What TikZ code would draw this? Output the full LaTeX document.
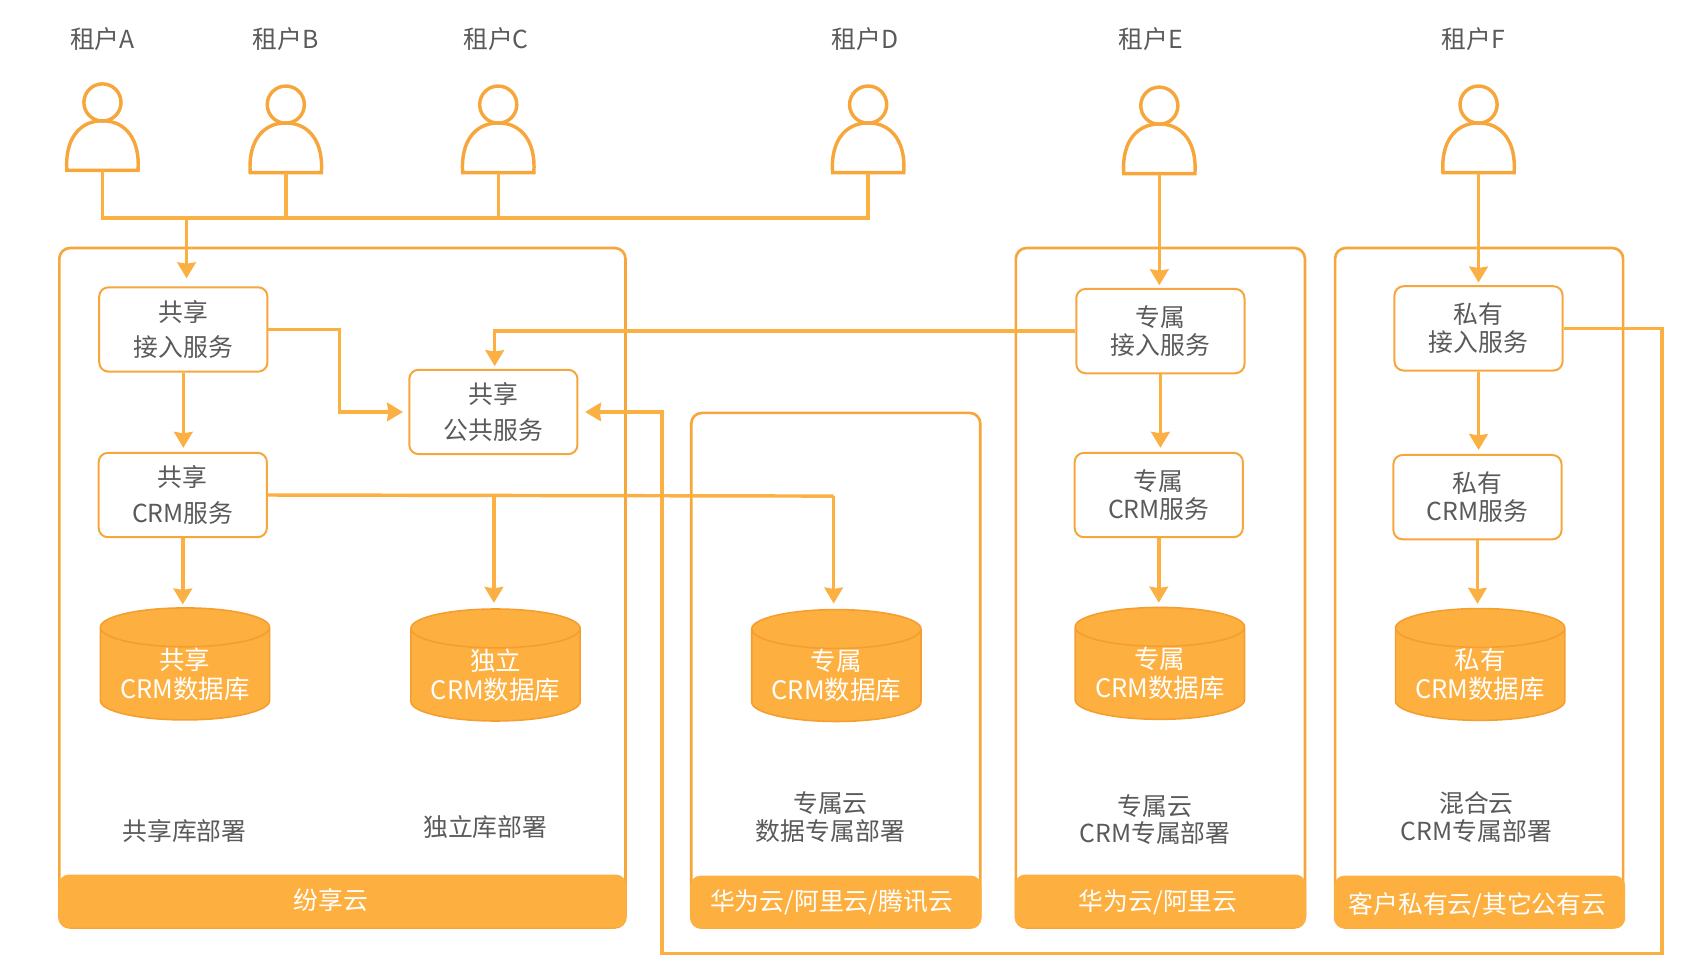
\documentclass[tikz,border=0pt]{standalone}
\usepackage{fontspec}
\setmainfont{Noto Sans CJK SC}
\usetikzlibrary{arrows.meta,shapes.geometric}
\definecolor{lineor}{HTML}{FBB044}
\definecolor{edgeor}{HTML}{F7A63C}
\definecolor{fillor}{HTML}{FDB040}
\definecolor{dbedge}{HTML}{F59E30}
\definecolor{txtgray}{HTML}{5A5A5A}
\begin{document}
\begin{tikzpicture}[x=.813pt,y=-.813pt,
        every node/.style={font=\fontsize{18.7}{21}\selectfont,text=txtgray,align=center,inner sep=0pt},
        conn/.style={draw=lineor,line width=2.6pt,>={Stealth[inset=1pt,length=12pt,width=14pt]},->},
        bus/.style={draw=lineor,line width=2.6pt},
        person/.style={draw=edgeor,line width=2.6pt},
        cloudbox/.style={draw=edgeor,line width=2pt,rounded corners=8pt},
        cloudbar/.style={fill=fillor,rounded corners=8pt},
        bartext/.style={text=white},
        svc/.style={draw=edgeor,line width=1.5pt,rounded corners=7pt,fill=white,minimum width=126.8pt,minimum height=63.6pt},
        dbase/.style={cylinder,shape border rotate=90,aspect=.3,draw=dbedge,line width=1.2pt,cylinder uses custom fill,cylinder body fill=fillor,cylinder end fill=fillor,text=white,minimum width=127.6pt,font=\fontsize{19.2}{22}\selectfont}]
            \useasboundingbox (0,0) rectangle (1568,890.2);
            \node[cloudbox,minimum width=426.8pt,minimum height=512.2pt] at (317.5,545)(cloudA){};
            \node[cloudbox,minimum width=217.9pt,minimum height=388pt] at (775,621.5)(cloudB){};
            \node[cloudbox,minimum width=217.9pt,minimum height=512.2pt] at (1076,545)(cloudC){};
            \node[cloudbox,minimum width=217.1pt,minimum height=512.2pt] at (1371.5,545)(cloudD){};
            \node[cloudbar,minimum width=428pt,minimum height=40pt] at (317.5,835.5)(barA){};
            \node[cloudbar,minimum width=219.5pt,minimum height=40pt] at (775,836.5)(barB){};
            \node[cloudbar,minimum width=219.5pt,minimum height=40pt] at (1076,835.5)(barC){};
            \node[cloudbar,minimum width=219.5pt,minimum height=40pt] at (1372,836.5)(barD){};
            \node[bartext] at (307,835)(barAtext){纷享云};
            \node[bartext] at (771,837)(barBtext){华为云/阿里云/腾讯云};
            \node[bartext] at (1074,837)(barCtext){华为云/阿里云};
            \node[bartext] at (1370,839)(barDtext){客户私有云/其它公有云};
            \foreach \n/\lx/\x/\y in {A/95/95/95,B/265/265/97,C/460/462/97,D/802/805/97,E/1067/1075/98,F/1366/1371/97}{
                \node at (\lx,36)(label\n){租户\n};
                \node[person,ellipse,minimum width=28pt,minimum height=28pt] at (\x,\y)(head\n){};
                \draw[person,shift={(\x,\y)}] (-33,63) .. controls (-35,35) and (-22,17) .. (0,17) .. controls (22,17) and (35,35) .. (33,63) -- cycle;
                \coordinate (foot\n) at (\x,\y+63);
            }
            \node[svc] at (170,305.5)(shareIn){共享\\[6pt]接入服务};
            \node[svc] at (169.5,459)(shareCrm){共享\\[6pt]CRM服务};
            \node[svc] at (457.5,382)(sharePub){共享\\[6pt]公共服务};
            \node[svc] at (1076,307)(onlyIn){专属\\接入服务};
            \node[svc] at (1074.5,459)(onlyCrm){专属\\CRM服务};
            \node[svc] at (1371,304.5)(privIn){私有\\接入服务};
            \node[svc] at (1370,461)(privCrm){私有\\CRM服务};
            \node[dbase] at (171.5,625)(dbA){共享\\CRM数据库};
            \node[dbase] at (459.5,626)(dbB){独立\\CRM数据库};
            \node[dbase] at (775.5,626.5)(dbC){专属\\CRM数据库};
            \node[dbase] at (1075.5,624.5)(dbD){专属\\CRM数据库};
            \node[dbase] at (1372.5,625.5)(dbE){私有\\CRM数据库};
            \node at (171,771)(capA){共享库部署};
            \node at (450,767)(capB){独立库部署};
            \node at (770,758)(capC){专属云\\数据专属部署};
            \node at (1071,760)(capD){专属云\\CRM专属部署};
            \node at (1369,758)(capE){混合云\\CRM专属部署};
            \coordinate (busMid) at (173,202);
            \coordinate (crmMid) at (458,460);
            \coordinate (crmEnd) at (773,460);
            \coordinate (wrapR) at (1541,884);
            \coordinate (wrapL) at (614,884);
            \path[bus] (footA) |- (busMid) -| (footD);
            \path[bus] (footB) -- (footB |- busMid);
            \path[bus] (footC) -- (footC |- busMid);
            \path[conn,shorten >=6pt] (busMid) -- (busMid |- shareIn.north);
            \path[conn,shorten >=2pt] (footE) -- (footE |- onlyIn.north);
            \path[conn,shorten >=2pt] (footF) -- (footF |- privIn.north);
            \path[conn,shorten >=3pt] (shareIn.south) -- (shareCrm.north -| shareIn.south);
            \path[conn,shorten >=2pt] (shareCrm.south) -- (dbA.north -| shareCrm.south);
            \path[conn,shorten >=4pt] (shareIn.east) -- ++(66,0) |- (sharePub.west);
            \path[conn,shorten >=2pt] (onlyIn.west) -| ([xshift=1pt]sharePub.north);
            \path[conn,shorten >=5pt] (privIn.east) -| (wrapR) -- (wrapL) |- (sharePub.east);
            \path[bus] (shareCrm.east) -- (crmEnd);
            \path[conn,shorten >=4pt] (crmEnd) -- (crmEnd |- dbC.north);
            \path[conn,shorten >=4pt] (crmMid) -- (crmMid |- dbB.north);
            \path[conn,shorten >=3pt] (onlyIn.south) -- (onlyCrm.north -| onlyIn.south);
            \path[conn,shorten >=3pt] (onlyCrm.south) -- (dbD.north -| onlyCrm.south);
            \path[conn,shorten >=3pt] (privIn.south) -- (privCrm.north -| privIn.south);
            \path[conn,shorten >=3pt] (privCrm.south) -- (dbE.north -| privCrm.south);
        \end{tikzpicture}
\end{document}
